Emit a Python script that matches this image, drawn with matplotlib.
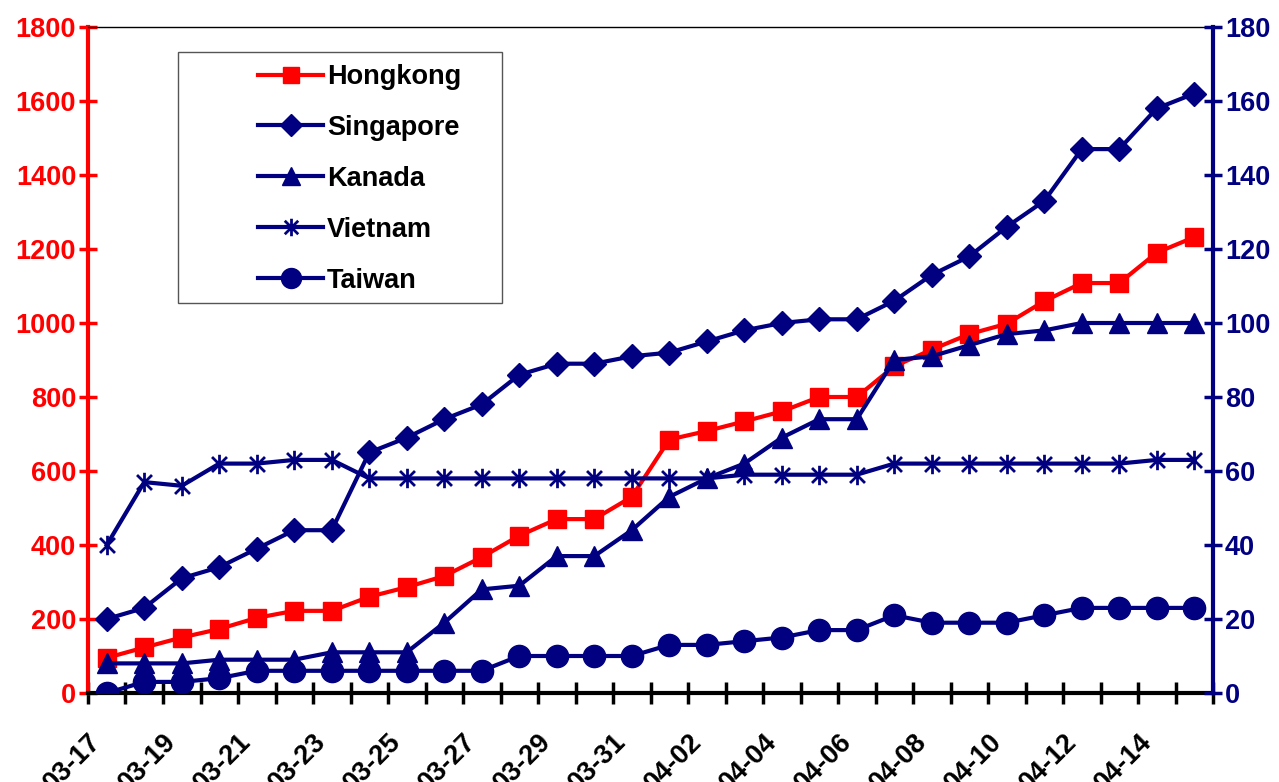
import numpy as np
import matplotlib
matplotlib.use("Agg")
import matplotlib.pyplot as plt
from matplotlib.path import Path
from matplotlib.patches import Rectangle

# SARS cumulative cases, 17 March - 15 April
dates = ['03-17', '03-18', '03-19', '03-20', '03-21', '03-22', '03-23', '03-24', '03-25', '03-26',
         '03-27', '03-28', '03-29', '03-30', '03-31', '04-01', '04-02', '04-03', '04-04', '04-05',
         '04-06', '04-07', '04-08', '04-09', '04-10', '04-11', '04-12', '04-13', '04-14', '04-15']

hongkong = [95, 123, 150, 173, 203, 222, 222, 260, 286, 316,
            367, 425, 470, 470, 530, 685, 708, 734, 761, 800,
            800, 883, 928, 970, 998, 1059, 1108, 1108, 1190, 1232]
singapore = [20, 23, 31, 34, 39, 44, 44, 65, 69, 74,
             78, 86, 89, 89, 91, 92, 95, 98, 100, 101,
             101, 106, 113, 118, 126, 133, 147, 147, 158, 162]
kanada = [8, 8, 8, 9, 9, 9, 11, 11, 11, 19,
          28, 29, 37, 37, 44, 53, 58, 62, 69, 74,
          74, 90, 91, 94, 97, 98, 100, 100, 100, 100]
vietnam = [40, 57, 56, 62, 62, 63, 63, 58, 58, 58,
           58, 58, 58, 58, 58, 58, 58, 59, 59, 59,
           59, 62, 62, 62, 62, 62, 62, 62, 63, 63]
taiwan = [0, 3, 3, 4, 6, 6, 6, 6, 6, 6,
          6, 10, 10, 10, 10, 13, 13, 14, 15, 17,
          17, 21, 19, 19, 19, 21, 23, 23, 23, 23]

RED = '#FF0000'
NAVY = '#000080'
FS = 19.5

plt.rcParams['font.family'] = ['Liberation Sans', 'DejaVu Sans']
plt.rcParams['font.weight'] = 'bold'

# Excel style asterisk marker: an x with a vertical bar
star = Path([(-1, -1), (1, 1), (-1, 1), (1, -1), (0, -1.3), (0, 1.3)],
            [Path.MOVETO, Path.LINETO, Path.MOVETO, Path.LINETO, Path.MOVETO, Path.LINETO])

fig = plt.figure(figsize=(12.79, 7.82), dpi=100)
ax = fig.add_axes([88 / 1279, 89 / 782, 1125 / 1279, 666 / 782])
ax2 = ax.twinx()

x = np.arange(len(dates))
lw = 3

h1, = ax.plot(x, hongkong, color=RED, lw=lw, marker='s', ms=13, label='Hongkong')
h2, = ax2.plot(x, singapore, color=NAVY, lw=lw, marker='D', ms=12, label='Singapore')
h3, = ax2.plot(x, kanada, color=NAVY, lw=lw, marker='^', ms=15, label='Kanada')
h4, = ax2.plot(x, vietnam, color=NAVY, lw=lw, marker=star, ms=14, mew=2, mfc='none', label='Vietnam')
h5, = ax2.plot(x, taiwan, color=NAVY, lw=lw, marker='o', ms=16, label='Taiwan')

ax.set_xlim(-0.5, len(dates) - 0.5)
ax.set_ylim(0, 1800)
ax2.set_ylim(0, 180)
ax.set_yticks(np.arange(0, 1801, 200))
ax2.set_yticks(np.arange(0, 181, 20))

# ticks at category boundaries, labels every second day
ax.set_xticks(np.arange(-0.5, len(dates), 1))
ax.set_xticklabels([])
ax.set_xticks(x[::2], minor=True)
ax.set_xticklabels(dates[::2], minor=True, rotation=45, ha='right', fontsize=FS, fontweight='bold')
ax.tick_params(axis='x', which='major', direction='inout', length=16, width=2.5, color='black')
ax.tick_params(axis='x', which='minor', length=0, pad=26)

ax.tick_params(axis='y', direction='inout', length=13, width=2.5, color=RED, labelcolor=RED,
               labelsize=FS, pad=2)
ax2.tick_params(axis='y', direction='inout', length=13, width=2.5, color=NAVY, labelcolor=NAVY,
                labelsize=FS, pad=2)

for lab in ax.get_yticklabels() + ax2.get_yticklabels():
    lab.set_fontweight('bold')

ax.spines['left'].set_color(RED)
ax.spines['left'].set_linewidth(3)
ax.spines['bottom'].set_color('black')
ax.spines['bottom'].set_linewidth(3)
ax.spines['top'].set_linewidth(1)
ax.spines['right'].set_visible(False)
ax2.spines['right'].set_color(NAVY)
ax2.spines['right'].set_linewidth(3)
for s in ['left', 'bottom', 'top']:
    ax2.spines[s].set_visible(False)

# legend box drawn separately, it is wider than its content
fig.patches.append(Rectangle((178 / 1279, 1 - 303 / 782), 324 / 1279, 251 / 782,
                             transform=fig.transFigure, fill=False, edgecolor='#555555', lw=1))
fig.legend(handles=[h1, h2, h3, h4, h5], loc='upper left',
           bbox_to_anchor=(258 / 1279, 1 - 64 / 782), frameon=False,
           prop={'size': FS, 'weight': 'bold'}, handlelength=2.4, handletextpad=0.15,
           labelspacing=0.92, borderpad=0, borderaxespad=0, markerscale=0.9)

fig.savefig('out.png', dpi=100)
